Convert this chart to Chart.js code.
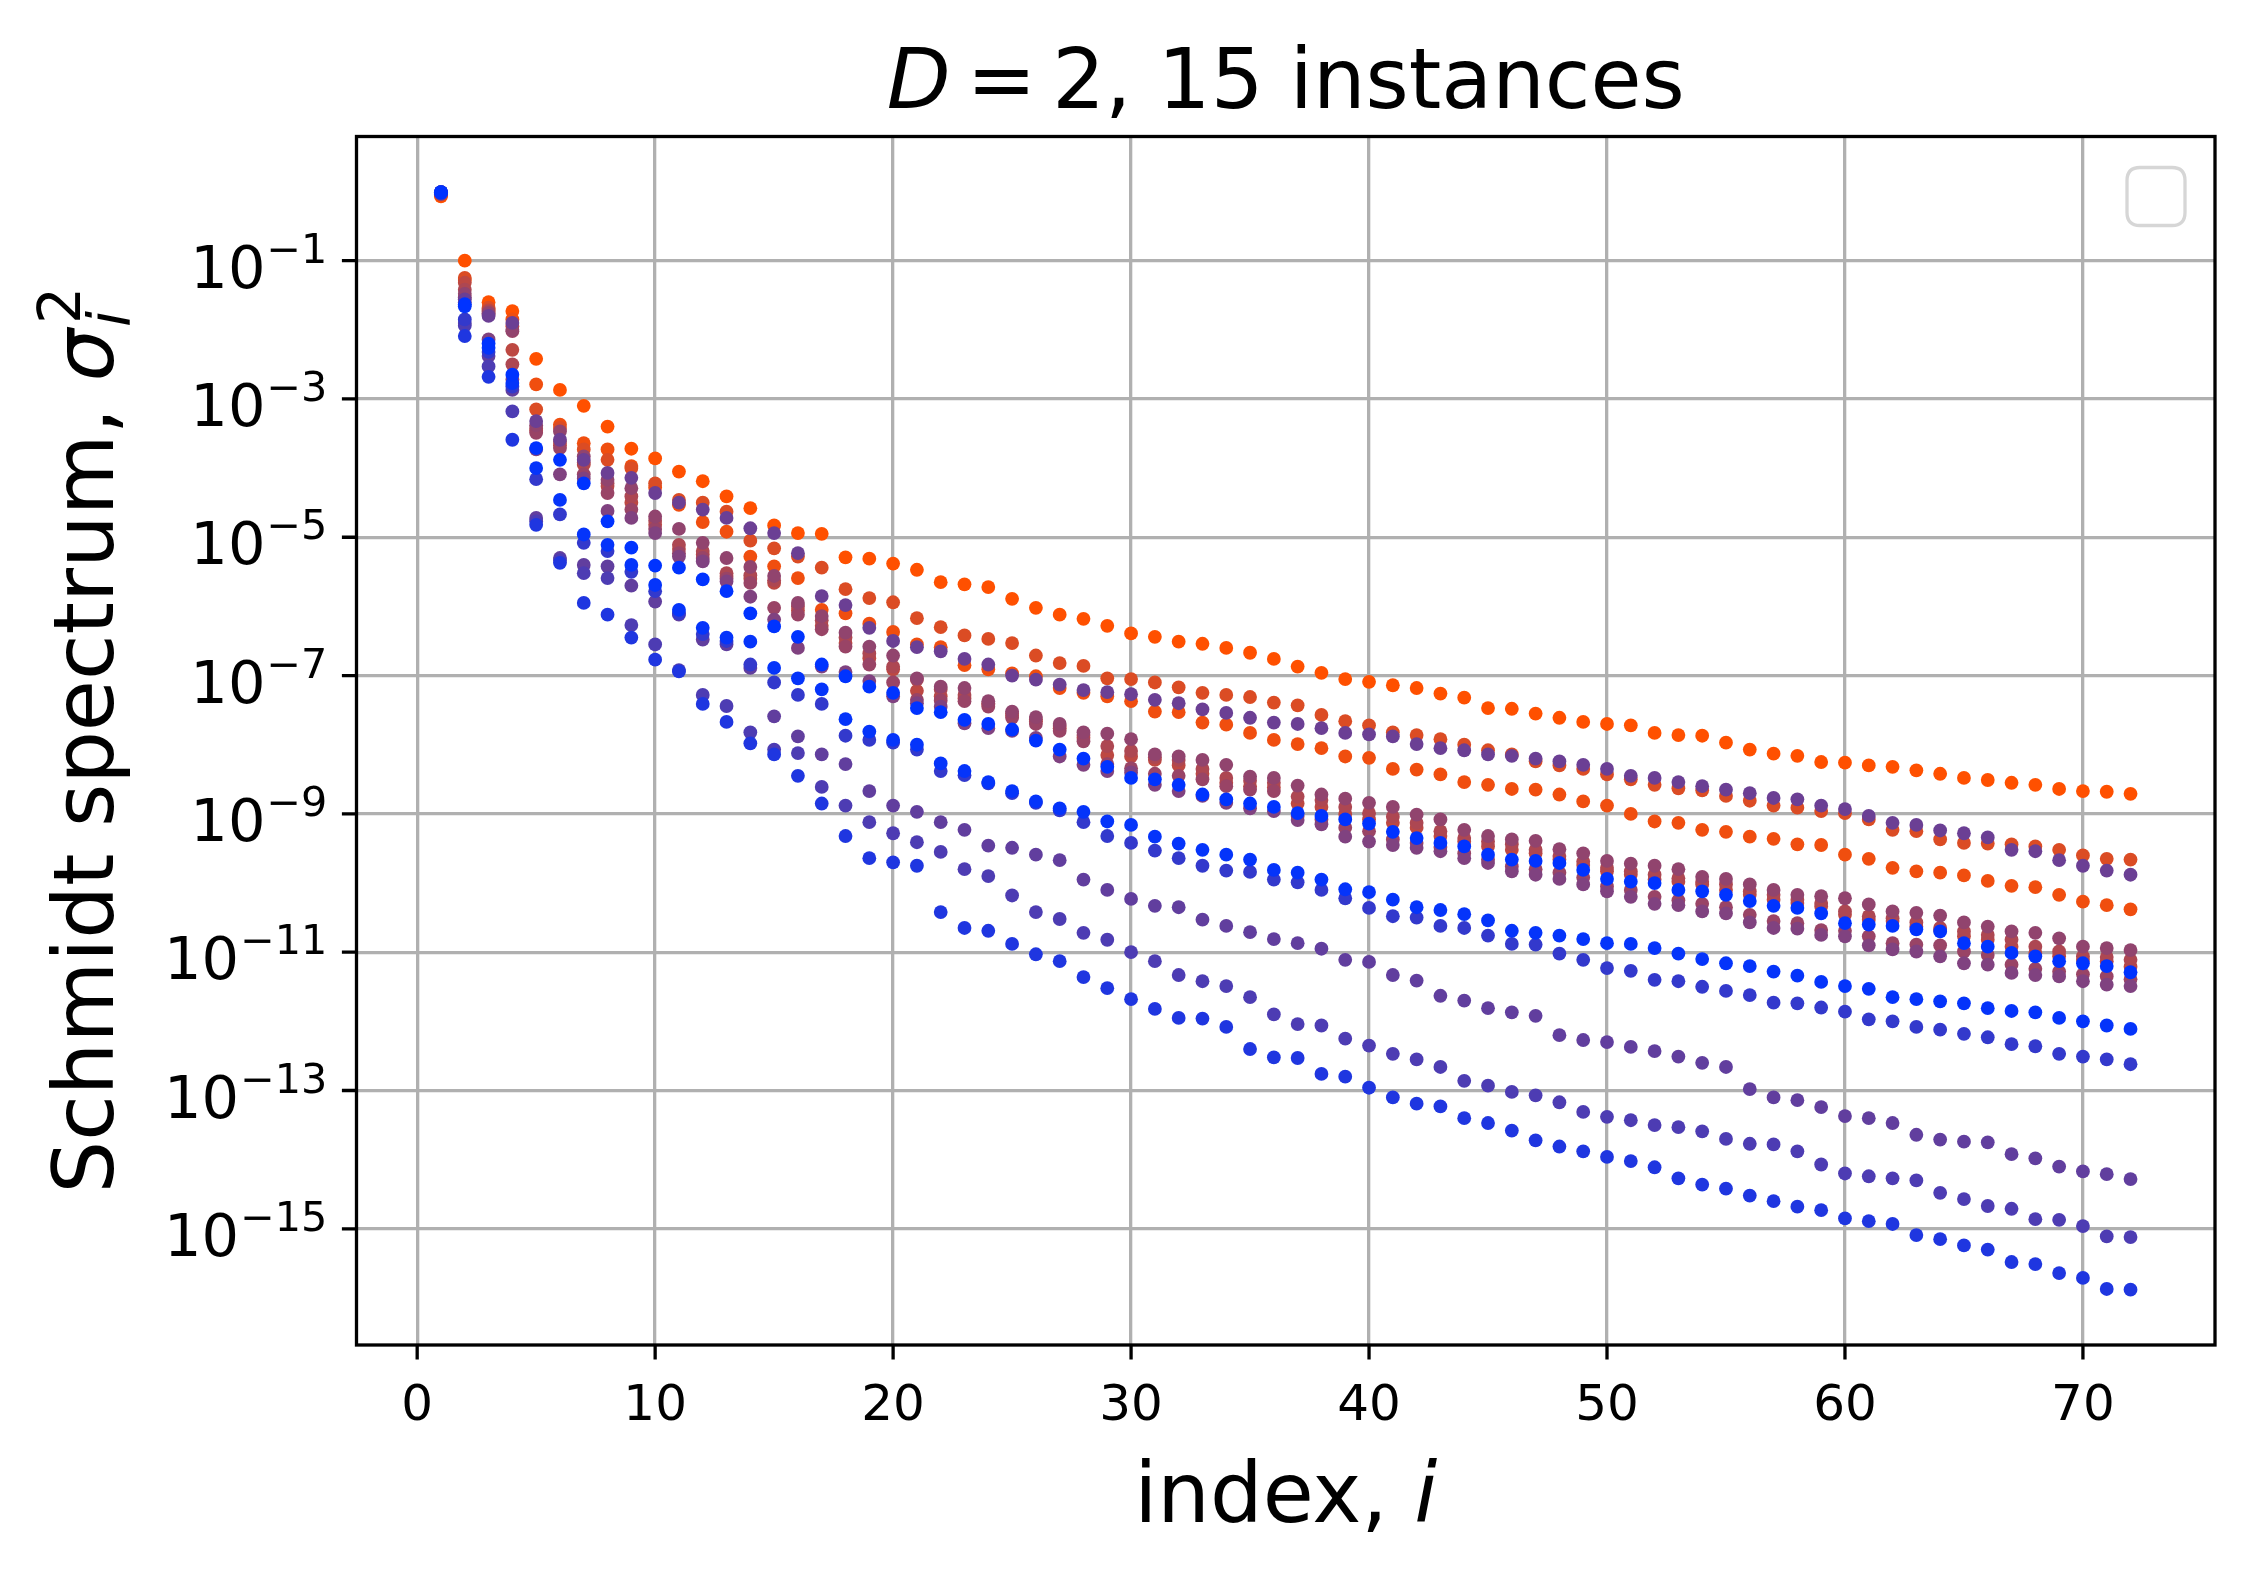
<!DOCTYPE html>
<html>
<head>
<meta charset="utf-8">
<script src="https://cdn.jsdelivr.net/npm/chart.js"></script>
<style>html,body{margin:0;padding:0;background:#fff;}canvas{display:block;}</style>
</head>
<body>
<canvas id="c" width="2256" height="1581"></canvas>
<script>
// ---- data: index i and log10 of Schmidt values sigma_i^2 for 15 instances ----
const indexValues = [1,2,3,4,5,6,7,8,9,10,11,12,13,14,15,16,17,18,19,20,21,22,23,24,25,26,27,28,29,30,31,32,33,34,35,36,
  37,38,39,40,41,42,43,44,45,46,47,48,49,50,51,52,53,54,55,56,57,58,59,60,61,62,63,64,65,66,67,68,69,70,71,72];

const logA = [-0.07,-1.0,-1.6,-1.73,-2.42,-2.87,-3.1,-3.4,-3.72,-3.86,
  -4.05,-4.19,-4.41,-4.58,-4.83,-4.94,-4.95,-5.29,-5.31,-5.38,
  -5.47,-5.65,-5.68,-5.72,-5.89,-6.02,-6.12,-6.18,-6.28,-6.39,
  -6.44,-6.51,-6.54,-6.6,-6.67,-6.76,-6.87,-6.96,-7.05,-7.09,
  -7.14,-7.18,-7.26,-7.32,-7.47,-7.48,-7.55,-7.61,-7.67,-7.7,
  -7.72,-7.83,-7.86,-7.87,-7.97,-8.07,-8.13,-8.16,-8.25,-8.26,
  -8.3,-8.32,-8.37,-8.42,-8.48,-8.51,-8.55,-8.58,-8.64,-8.67,
  -8.68,-8.71];
const logB = [-0.04,-1.25,-1.68,-1.95,-3.15,-3.42,-3.73,-3.88,-4.0,-4.22,
  -4.46,-4.5,-4.63,-5.05,-5.16,-5.28,-5.44,-5.75,-5.88,-5.94,
  -6.17,-6.3,-6.42,-6.47,-6.53,-6.71,-6.82,-6.86,-7.04,-7.05,
  -7.1,-7.17,-7.25,-7.28,-7.31,-7.39,-7.43,-7.57,-7.66,-7.72,
  -7.82,-7.86,-7.92,-8.0,-8.08,-8.14,-8.24,-8.3,-8.35,-8.43,
  -8.5,-8.58,-8.63,-8.66,-8.74,-8.81,-8.88,-8.91,-8.96,-8.99,
  -9.08,-9.23,-9.25,-9.37,-9.42,-9.43,-9.44,-9.47,-9.52,-9.6,
  -9.65,-9.66];
const logC = [-0.03,-1.56,-1.8,-1.9,-3.32,-3.59,-3.88,-4.07,-4.14,-4.36,
  -4.5,-4.6,-4.72,-4.87,-4.94,-5.23,-5.85,-5.98,-6.31,-6.5,
  -6.59,-6.65,-6.76,-6.84,-7.0,-7.06,-7.13,-7.21,-7.24,-7.27,
  -7.35,-7.4,-7.49,-7.54,-7.61,-7.68,-7.7,-7.76,-7.83,-7.85,
  -7.88,-7.99,-8.05,-8.08,-8.14,-8.16,-8.2,-8.24,-8.29,-8.35,
  -8.45,-8.48,-8.54,-8.6,-8.65,-8.7,-8.77,-8.79,-8.88,-8.93,
  -9.03,-9.13,-9.16,-9.24,-9.28,-9.34,-9.52,-9.54,-9.67,-9.75,
  -9.82,-9.88];
const logD = [-0.05,-1.28,-1.7,-1.85,-2.79,-3.37,-3.64,-3.73,-3.97,-4.28,
  -4.53,-4.78,-4.92,-5.28,-5.42,-5.59,-6.05,-6.1,-6.25,-6.37,
  -6.55,-6.59,-6.85,-6.91,-6.97,-7.01,-7.18,-7.25,-7.3,-7.37,
  -7.52,-7.53,-7.68,-7.71,-7.83,-7.93,-7.99,-8.05,-8.17,-8.19,
  -8.35,-8.36,-8.43,-8.54,-8.58,-8.64,-8.65,-8.72,-8.82,-8.88,
  -9.0,-9.11,-9.13,-9.23,-9.26,-9.33,-9.36,-9.44,-9.45,-9.59,
  -9.65,-9.78,-9.83,-9.85,-9.89,-9.97,-10.04,-10.06,-10.17,-10.27,
  -10.32,-10.38];
const logE1 = [-0.03,-1.48,-1.76,-2.0,-3.38,-3.47,-3.83,-4.17,-4.29,-4.7,
  -4.88,-5.08,-5.3,-5.43,-5.56,-5.95,-6.14,-6.38,-6.58,-6.71,
  -7.04,-7.16,-7.18,-7.37,-7.52,-7.6,-7.7,-7.82,-7.84,-7.92,
  -8.14,-8.17,-8.22,-8.29,-8.46,-8.48,-8.59,-8.72,-8.78,-8.84,
  -8.9,-9.01,-9.08,-9.23,-9.32,-9.37,-9.39,-9.51,-9.57,-9.68,
  -9.72,-9.75,-9.8,-9.91,-9.94,-10.02,-10.1,-10.17,-10.19,-10.22,
  -10.31,-10.41,-10.43,-10.47,-10.57,-10.63,-10.7,-10.72,-10.8,-10.92,
  -10.94,-10.97];
const logE2 = [-0.03,-1.42,-1.74,-2.5,-3.43,-3.62,-3.92,-4.22,-4.41,-4.76,
  -5.11,-5.2,-5.52,-5.55,-5.62,-6.0,-6.2,-6.45,-6.68,-6.87,
  -7.06,-7.2,-7.28,-7.4,-7.55,-7.63,-7.73,-7.86,-8.02,-8.09,
  -8.18,-8.22,-8.35,-8.48,-8.52,-8.55,-8.75,-8.8,-8.9,-8.99,
  -9.04,-9.13,-9.25,-9.35,-9.4,-9.44,-9.52,-9.61,-9.69,-9.78,
  -9.83,-9.88,-9.93,-9.98,-10.02,-10.12,-10.17,-10.24,-10.29,-10.41,
  -10.48,-10.51,-10.57,-10.65,-10.7,-10.75,-10.82,-10.92,-10.99,-11.06,
  -11.07,-11.11];
const logE3 = [-0.04,-1.32,-1.72,-2.29,-3.46,-3.67,-3.95,-4.26,-4.5,-4.82,
  -5.17,-5.25,-5.56,-5.6,-5.66,-6.06,-6.28,-6.53,-6.75,-6.91,
  -7.22,-7.3,-7.33,-7.42,-7.58,-7.66,-7.76,-7.9,-8.15,-8.17,
  -8.22,-8.3,-8.42,-8.55,-8.6,-8.62,-8.85,-8.9,-9.0,-9.08,
  -9.13,-9.2,-9.32,-9.4,-9.47,-9.52,-9.57,-9.66,-9.74,-9.83,
  -9.88,-9.95,-9.98,-10.02,-10.1,-10.17,-10.24,-10.29,-10.34,-10.46,
  -10.53,-10.55,-10.63,-10.68,-10.77,-10.82,-10.92,-11.01,-11.06,-11.11,
  -11.13,-11.21];
const logG = [-0.02,-1.63,-2.2,-2.65,-3.71,-3.88,-4.22,-4.77,-5.15,-5.41,
  -5.44,-5.61,-5.78,-6.1,-6.29,-6.44,-6.84,-7.01,-7.16,-7.25,
  -7.47,-7.53,-7.64,-7.7,-7.78,-7.94,-8.07,-8.2,-8.32,-8.48,
  -8.5,-8.58,-8.72,-8.79,-8.85,-8.9,-8.99,-9.03,-9.08,-9.14,
  -9.26,-9.35,-9.42,-9.47,-9.59,-9.66,-9.68,-9.71,-9.81,-9.94,
  -9.98,-10.0,-10.1,-10.12,-10.17,-10.26,-10.33,-10.36,-10.44,-10.58,
  -10.6,-10.62,-10.67,-10.7,-10.87,-10.92,-11.01,-11.06,-11.13,-11.16,
  -11.2,-11.29];
const logE5 = [-0.03,-1.53,-1.78,-2.02,-3.49,-3.71,-4.09,-4.36,-4.6,-4.88,
  -5.23,-5.3,-5.6,-5.66,-6.02,-6.12,-6.33,-6.58,-6.84,-7.1,
  -7.35,-7.36,-7.37,-7.45,-7.61,-7.7,-7.8,-7.95,-8.28,-8.34,
  -8.42,-8.45,-8.5,-8.6,-8.65,-8.67,-9.03,-9.08,-9.2,-9.25,
  -9.37,-9.42,-9.48,-9.57,-9.66,-9.76,-9.8,-9.85,-9.92,-10.05,
  -10.1,-10.2,-10.25,-10.3,-10.35,-10.46,-10.55,-10.58,-10.68,-10.69,
  -10.77,-10.87,-10.89,-10.9,-10.99,-11.04,-11.18,-11.24,-11.28,-11.32,
  -11.35,-11.39];
const logE6 = [-0.02,-1.6,-2.14,-2.72,-3.73,-4.09,-4.15,-4.62,-4.72,-4.94,
  -5.28,-5.35,-5.64,-5.86,-6.19,-6.6,-6.87,-6.95,-7.08,-7.3,
  -7.4,-7.45,-7.69,-7.76,-7.8,-7.9,-8.17,-8.29,-8.38,-8.4,
  -8.58,-8.67,-8.74,-8.84,-8.92,-8.96,-9.09,-9.15,-9.33,-9.4,
  -9.45,-9.49,-9.54,-9.64,-9.71,-9.83,-9.88,-9.94,-10.02,-10.12,
  -10.2,-10.3,-10.32,-10.41,-10.44,-10.57,-10.65,-10.66,-10.75,-10.77,
  -10.9,-10.96,-10.99,-11.06,-11.16,-11.18,-11.3,-11.33,-11.35,-11.42,
  -11.47,-11.49];
const logJ = [-0.01,-1.66,-2.26,-2.77,-4.0,-4.46,-4.96,-5.11,-5.4,-5.69,
  -6.05,-6.31,-6.45,-6.51,-6.89,-7.04,-7.2,-7.63,-7.81,-7.93,
  -8.0,-8.27,-8.38,-8.54,-8.67,-8.82,-8.92,-8.97,-9.11,-9.16,
  -9.33,-9.43,-9.52,-9.59,-9.66,-9.81,-9.85,-9.95,-10.09,-10.13,
  -10.24,-10.35,-10.39,-10.45,-10.54,-10.69,-10.72,-10.76,-10.81,-10.87,
  -10.88,-10.94,-11.02,-11.1,-11.16,-11.2,-11.28,-11.34,-11.43,-11.49,
  -11.53,-11.65,-11.68,-11.71,-11.74,-11.81,-11.85,-11.87,-11.95,-12.0,
  -12.06,-12.11];
const logK = [-0.01,-1.85,-2.32,-2.82,-4.16,-4.67,-5.08,-5.2,-5.5,-5.78,
  -6.1,-6.4,-6.5,-6.84,-7.1,-7.28,-7.41,-7.87,-7.93,-7.97,
  -8.07,-8.38,-8.44,-8.56,-8.7,-8.84,-8.95,-9.12,-9.32,-9.42,
  -9.53,-9.64,-9.75,-9.82,-9.84,-9.95,-9.99,-10.1,-10.22,-10.36,
  -10.48,-10.5,-10.62,-10.65,-10.76,-10.88,-10.89,-11.02,-11.11,-11.23,
  -11.27,-11.4,-11.42,-11.5,-11.56,-11.62,-11.73,-11.74,-11.8,-11.86,
  -11.97,-12.0,-12.08,-12.12,-12.18,-12.23,-12.33,-12.36,-12.47,-12.51,
  -12.55,-12.62];
const logL = [-0.01,-1.9,-2.38,-2.87,-4.72,-5.3,-5.4,-5.42,-5.7,-5.93,
  -6.12,-6.48,-6.55,-6.89,-7.59,-7.88,-8.14,-8.28,-8.67,-8.88,
  -8.97,-9.12,-9.23,-9.46,-9.49,-9.59,-9.67,-9.95,-10.1,-10.23,
  -10.33,-10.35,-10.53,-10.62,-10.71,-10.81,-10.87,-10.95,-11.11,-11.14,
  -11.33,-11.41,-11.63,-11.7,-11.81,-11.87,-11.92,-12.2,-12.27,-12.3,
  -12.37,-12.43,-12.51,-12.6,-12.66,-12.98,-13.1,-13.14,-13.24,-13.37,
  -13.4,-13.47,-13.64,-13.71,-13.74,-13.75,-13.92,-13.98,-14.1,-14.17,
  -14.21,-14.28];
const logM = [-0.01,-1.94,-2.53,-3.18,-4.77,-5.33,-5.52,-5.59,-6.27,-6.55,
  -6.92,-7.28,-7.44,-7.82,-8.07,-8.12,-8.61,-8.88,-9.12,-9.28,
  -9.41,-9.55,-9.8,-9.9,-10.18,-10.42,-10.52,-10.72,-10.82,-11.0,
  -11.13,-11.33,-11.42,-11.49,-11.65,-11.9,-12.04,-12.06,-12.25,-12.35,
  -12.47,-12.55,-12.66,-12.86,-12.93,-13.02,-13.07,-13.17,-13.31,-13.38,
  -13.43,-13.5,-13.53,-13.59,-13.7,-13.77,-13.78,-13.88,-14.07,-14.2,
  -14.24,-14.27,-14.3,-14.48,-14.57,-14.67,-14.71,-14.86,-14.87,-14.96,
  -15.11,-15.12];
const logN = [-0.01,-2.09,-2.68,-3.59,-4.82,-5.37,-5.95,-6.12,-6.45,-6.77,
  -6.94,-7.41,-7.67,-7.98,-8.14,-8.45,-8.85,-9.32,-9.64,-9.7,
  -9.75,-10.42,-10.65,-10.69,-10.88,-11.03,-11.13,-11.36,-11.52,-11.68,
  -11.82,-11.95,-11.96,-12.08,-12.4,-12.52,-12.53,-12.76,-12.8,-12.96,
  -13.1,-13.19,-13.23,-13.4,-13.47,-13.58,-13.72,-13.81,-13.88,-13.96,
  -14.02,-14.11,-14.27,-14.36,-14.42,-14.52,-14.6,-14.68,-14.73,-14.85,
  -14.89,-14.93,-15.09,-15.15,-15.24,-15.3,-15.48,-15.51,-15.64,-15.71,
  -15.87,-15.88];

const seriesLogs = [logA, logB, logC, logD, logE1, logE2, logE3, logG, logE5, logE6, logJ, logK, logL, logM, logN];
const seriesNames = ['instance 1','instance 2','instance 3','instance 4','instance 5','instance 6','instance 7',
  'instance 8','instance 9','instance 10','instance 11','instance 12','instance 13','instance 14','instance 15'];
const seriesColors = ['rgb(255,80,0)','rgb(219,76,36)','rgb(107,63,148)','rgb(240,78,15)','rgb(145,68,110)',
  'rgb(173,71,82)','rgb(189,72,66)','rgb(0,51,255)','rgb(153,68,102)','rgb(128,66,128)',
  'rgb(5,52,250)','rgb(51,57,204)','rgb(97,62,158)','rgb(77,60,179)','rgb(31,54,224)'];
const seriesOrder = [100,86,42,94,57,68,74,0,60,50,2,20,38,30,12];

// axis ticks
const xTicks = [0,10,20,30,40,50,60,70];
const xTickLabels = ['0','10','20','30','40','50','60','70'];
const yTickExps = [-1,-3,-5,-7,-9,-11,-13,-15];
const X_MIN = -2.55, X_MAX = 75.55;
const Y_MIN_EXP = -16.68, Y_MAX_EXP = 0.795;

// texts
const titleParts = [['D','italic',16],['=','normal',16],['2, 15 instances','normal',0]];
const xLabelParts = [['index, ','normal',0],['i','italic',0]];

// ---- layout constants ----
const FONT = '"DejaVu Sans", "Noto Sans", sans-serif';
const TICK_FS = 50, YTICK_FS = 59, LABEL_FS = 83;
const TICK_LEN = 14.6, TICK_PAD = 14.6, LW = 3.3;

const deco = {
  id: 'deco',
  afterDatasetsDraw(chart) {
    const ctx = chart.ctx, a = chart.chartArea, xs = chart.scales.x, ys = chart.scales.y;
    ctx.save();
    // legend (empty frame)
    const lx = a.right - 88, ly = a.top + 31, lw = 58, lh = 58, r = 13;
    ctx.beginPath();
    ctx.moveTo(lx + r, ly); ctx.lineTo(lx + lw - r, ly); ctx.quadraticCurveTo(lx + lw, ly, lx + lw, ly + r);
    ctx.lineTo(lx + lw, ly + lh - r); ctx.quadraticCurveTo(lx + lw, ly + lh, lx + lw - r, ly + lh);
    ctx.lineTo(lx + r, ly + lh); ctx.quadraticCurveTo(lx, ly + lh, lx, ly + lh - r);
    ctx.lineTo(lx, ly + r); ctx.quadraticCurveTo(lx, ly, lx + r, ly); ctx.closePath();
    ctx.fillStyle = 'rgba(255,255,255,0.8)'; ctx.fill();
    ctx.strokeStyle = '#d6d6d6'; ctx.lineWidth = 3.3; ctx.stroke();

    // spines
    ctx.strokeStyle = '#000'; ctx.lineWidth = LW;
    ctx.strokeRect(a.left, a.top, a.right - a.left, a.bottom - a.top);
    // tick marks
    ctx.beginPath();
    xTicks.forEach(v => { const x = xs.getPixelForValue(v); ctx.moveTo(x, a.bottom); ctx.lineTo(x, a.bottom + TICK_LEN); });
    yTickExps.forEach(e => { const y = ys.getPixelForValue(Math.pow(10, e)); ctx.moveTo(a.left, y); ctx.lineTo(a.left - TICK_LEN, y); });
    ctx.stroke();

    ctx.fillStyle = '#000';
    ctx.textBaseline = 'alphabetic';
    // x tick labels
    ctx.font = TICK_FS + 'px ' + FONT; ctx.textAlign = 'center';
    xTicks.forEach((v, k) => ctx.fillText(xTickLabels[k], xs.getPixelForValue(v), a.bottom + 75));
    // y tick labels 10^{-n}
    ctx.textAlign = 'left';
    const supFs = YTICK_FS * 0.7;
    yTickExps.forEach(e => {
      const y = ys.getPixelForValue(Math.pow(10, e));
      const base = '10', sup = '\u2212' + Math.abs(e);
      ctx.font = YTICK_FS + 'px ' + FONT; const wb = ctx.measureText(base).width;
      ctx.font = supFs + 'px ' + FONT; const ws = ctx.measureText(sup).width;
      const right = a.left - TICK_LEN - TICK_PAD;
      const bl = y + 27;
      ctx.font = YTICK_FS + 'px ' + FONT; ctx.fillText(base, right - ws - wb - 1, bl);
      ctx.font = supFs + 'px ' + FONT; ctx.fillText(sup, right - ws, bl - 25);
    });

    // mixed-style runs centred at cx; each part: [text, style, gapAfter]
    function drawRuns(parts, fs, cx, bl) {
      let w = 0; const ws = [];
      parts.forEach(p => { ctx.font = (p[1] === 'italic' ? 'italic ' : '') + fs + 'px ' + FONT; const m = ctx.measureText(p[0]).width; ws.push(m); w += m + p[2]; });
      let x = cx - w / 2;
      ctx.textAlign = 'left';
      parts.forEach((p, k) => { ctx.font = (p[1] === 'italic' ? 'italic ' : '') + fs + 'px ' + FONT; ctx.fillText(p[0], x, bl); x += ws[k] + p[2]; });
    }
    const cx = (a.left + a.right) / 2;
    drawRuns(titleParts, LABEL_FS, cx, 108);
    drawRuns(xLabelParts, LABEL_FS, cx, 1522);
    // y label (rotated)
    ctx.save();
    ctx.translate(113, (a.top + a.bottom) / 2);
    ctx.rotate(-Math.PI / 2);
    const main = 'Schmidt spectrum, ';
    ctx.font = LABEL_FS + 'px ' + FONT; const wm = ctx.measureText(main).width;
    ctx.font = 'italic ' + LABEL_FS + 'px ' + FONT; const wsig = ctx.measureText('\u03c3').width;
    const sfs = LABEL_FS * 0.7;
    ctx.font = 'italic ' + sfs + 'px ' + FONT; const wi = ctx.measureText('i').width;
    ctx.font = sfs + 'px ' + FONT; const w2 = ctx.measureText('2').width;
    const total = wm + wsig + Math.max(wi, w2) + 4;
    let x0 = -total / 2;
    ctx.textAlign = 'left';
    ctx.font = LABEL_FS + 'px ' + FONT; ctx.fillText(main, x0, 0); x0 += wm;
    ctx.font = 'italic ' + LABEL_FS + 'px ' + FONT; ctx.fillText('\u03c3', x0, 0); x0 += wsig + 2;
    ctx.font = 'italic ' + sfs + 'px ' + FONT; ctx.fillText('i', x0, 17);
    ctx.font = sfs + 'px ' + FONT; ctx.fillText('2', x0 + 3, -33);
    ctx.restore();
    ctx.restore();
  }
};

const datasets = seriesLogs.map((lg, k) => ({
  label: seriesNames[k],
  data: indexValues.map((x, j) => ({ x: x, y: Math.pow(10, lg[j]) })),
  backgroundColor: seriesColors[k],
  borderColor: seriesColors[k],
  borderWidth: 0,
  pointRadius: 6.9,
  pointHoverRadius: 6.9,
  order: seriesOrder[k]
}));

new Chart(document.getElementById('c').getContext('2d'), {
  type: 'scatter',
  data: { datasets },
  options: {
    responsive: false,
    devicePixelRatio: 1,
    animation: false,
    events: [],
    layout: { padding: { left: 0, right: 41, top: 136.5, bottom: 0 } },
    plugins: { legend: { display: false }, title: { display: false }, tooltip: { enabled: false } },
    scales: {
      x: {
        type: 'linear', min: X_MIN, max: X_MAX,
        afterBuildTicks: s => { s.ticks = xTicks.map(v => ({ value: v })); },
        afterFit: s => { s.height = 236; },
        ticks: { display: false },
        grid: { color: '#b0b0b0', lineWidth: LW, drawTicks: false },
        border: { display: false }
      },
      y: {
        type: 'logarithmic', min: Math.pow(10, Y_MIN_EXP), max: Math.pow(10, Y_MAX_EXP),
        afterBuildTicks: s => { s.ticks = yTickExps.map(e => ({ value: Math.pow(10, e) })); },
        afterFit: s => { s.width = 356.5; },
        ticks: { display: false },
        grid: { color: '#b0b0b0', lineWidth: LW, drawTicks: false },
        border: { display: false }
      }
    }
  },
  plugins: [deco]
});
</script>
</body>
</html>
